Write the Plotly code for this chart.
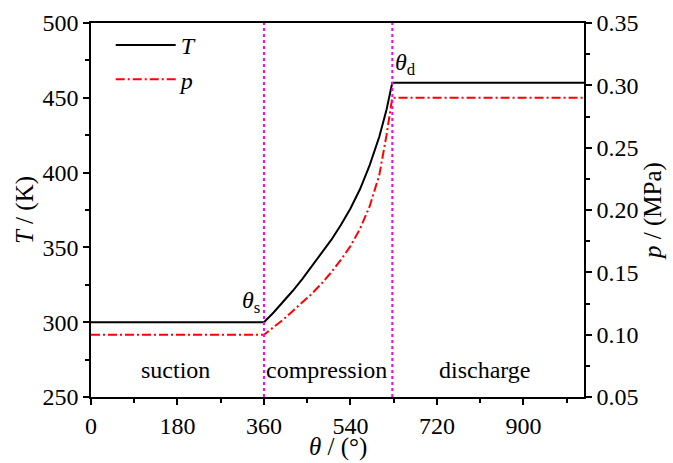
import plotly.graph_objects as go

# Data
theta_s = 360
theta_d = 627
theta_max = 1026

theta_T = [0, 360, 380, 400, 420, 440, 460, 480, 500, 520, 540, 560, 580, 600, 615, 627, 1026]
T_vals = [300, 300, 306.5, 313.5, 321, 329, 337.5, 346, 355, 365, 376, 389, 405, 424, 442, 460, 460]

theta_p = [0, 360, 380, 400, 420, 440, 460, 480, 500, 520, 540, 560, 580, 600, 615, 627, 1026]
p_vals = [0.100, 0.100, 0.106, 0.112, 0.119, 0.126, 0.133, 0.141, 0.150, 0.160, 0.171, 0.185,
          0.203, 0.228, 0.260, 0.290, 0.290]

x_ticks = [0, 180, 360, 540, 720, 900]
T_ticks = [250, 300, 350, 400, 450, 500]
p_ticks = [0.05, 0.10, 0.15, 0.20, 0.25, 0.30, 0.35]

regions = ["suction", "compression", "discharge"]
region_x = [175, 490, 820]

FONT = "Liberation Serif"
FS = 24
TFS = 25

fig = go.Figure()
fig.add_trace(go.Scatter(x=theta_T, y=T_vals, mode="lines", name="<i>T</i>",
                         line=dict(color="black", width=2), yaxis="y"))
fig.add_trace(go.Scatter(x=theta_p, y=p_vals, mode="lines", name="<i>p</i>",
                         line=dict(color="red", width=2, dash="9px,3px,2px,3px"), yaxis="y2"))

for th in [theta_s, theta_d]:
    fig.add_shape(type="line", x0=th, x1=th, y0=0, y1=1, xref="x", yref="paper",
                  line=dict(color="#ff00ff", width=2, dash="dot"))

annotations = []
for name, xr in zip(regions, region_x):
    annotations.append(dict(x=xr, y=268, xref="x", yref="y", text=name, showarrow=False,
                            font=dict(family=FONT, size=FS, color="black")))
annotations.append(dict(x=theta_s - 4, y=302, xref="x", yref="y", text="<i>θ</i><sub>s</sub>",
                        showarrow=False, xanchor="right", yanchor="bottom",
                        font=dict(family=FONT, size=FS, color="black")))
annotations.append(dict(x=theta_d + 2, y=461, xref="x", yref="y", text="<i>θ</i><sub>d</sub>",
                        showarrow=False, xanchor="left", yanchor="bottom",
                        font=dict(family=FONT, size=FS, color="black")))
# x-axis title
annotations.append(dict(x=0.5, y=-0.135, xref="paper", yref="paper", text="<i>θ</i> / (°)",
                        showarrow=False, xanchor="center", yanchor="middle",
                        font=dict(family=FONT, size=TFS, color="black")))

axis_common = dict(showline=True, linecolor="black", linewidth=1.5, ticks="outside",
                   ticklen=6, tickwidth=1.5, tickcolor="black", showgrid=False, zeroline=False,
                   automargin=False,
                   tickfont=dict(family=FONT, size=FS, color="black"))

fig.update_layout(
    template="none",
    width=673, height=463,
    margin=dict(l=91, r=89, t=23, b=66),
    paper_bgcolor="white", plot_bgcolor="white",
    font=dict(family=FONT, size=FS, color="black"),
    showlegend=True,
    legend=dict(x=0.04, y=1.0, xanchor="left", yanchor="top", bgcolor="rgba(0,0,0,0)",
                font=dict(family=FONT, size=FS), tracegroupgap=0, itemwidth=60),
    xaxis=dict(range=[0, theta_max], tickvals=x_ticks, mirror=True,
               minor=dict(dtick=90, ticks="outside", ticklen=4, tickcolor="black", tickwidth=1.5),
               **axis_common),
    yaxis=dict(range=[250, 500], tickvals=T_ticks,
               minor=dict(dtick=25, ticks="outside", ticklen=4, tickcolor="black", tickwidth=1.5),
               title=dict(text="<i>T</i> / (K)", font=dict(family=FONT, size=TFS), standoff=2),
               **axis_common),
    yaxis2=dict(range=[0.05, 0.35], tickvals=p_ticks, tickformat=".2f", overlaying="y", side="right",
                minor=dict(dtick=0.025, ticks="outside", ticklen=4, tickcolor="black", tickwidth=1.5),
                title=dict(text="<i>p</i> / (MPa)", font=dict(family=FONT, size=TFS), standoff=2),
                **axis_common),
    annotations=annotations,
)

fig.write_html("out.html")
